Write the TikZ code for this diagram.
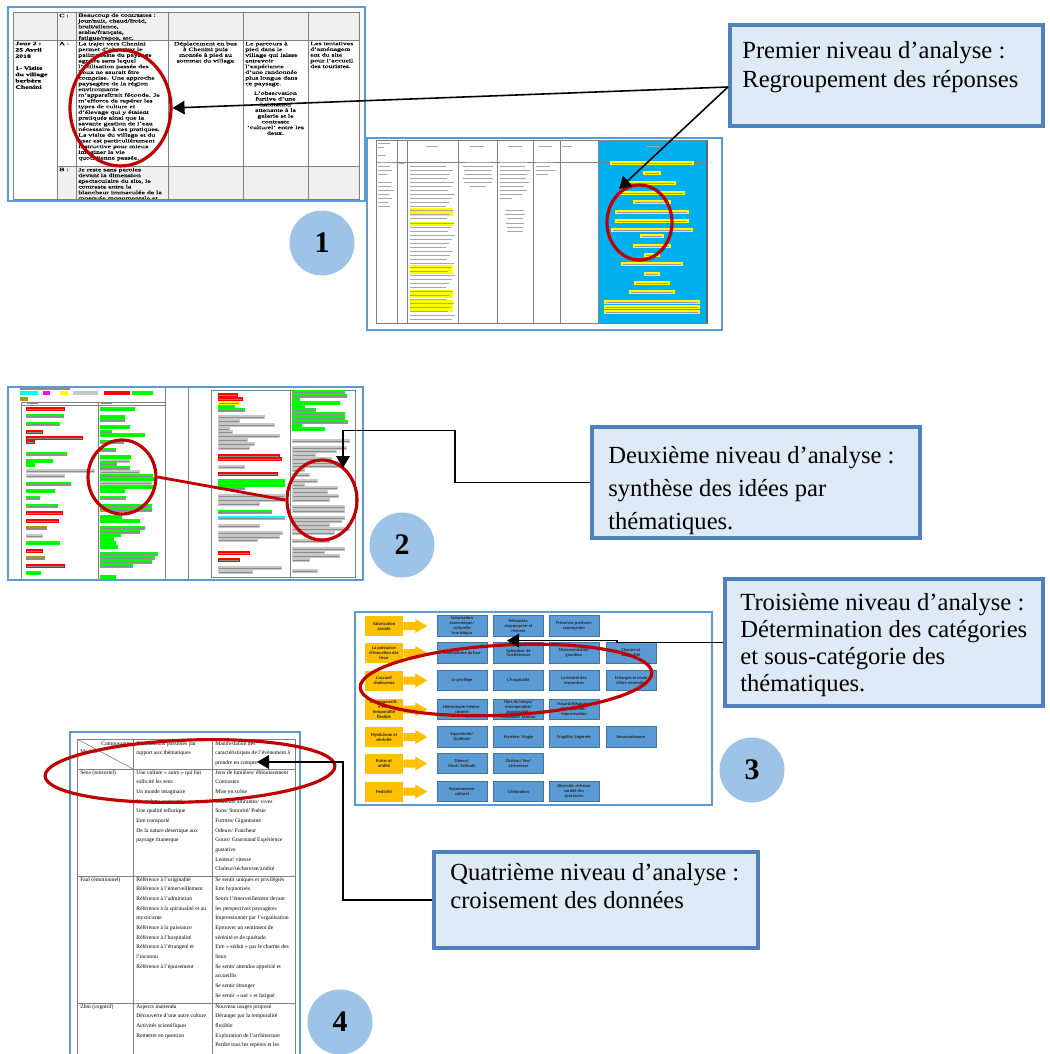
\documentclass[tikz,border=0pt]{standalone}
\usepackage{fontspec}
\setmainfont{Liberation Serif}
\newfontfamily\tabfont[FakeStretch=1.55, FakeBold=0.8]{Liberation Serif}
\newfontfamily\catfont{Carlito}
\usepackage{tikz}
\usetikzlibrary{arrows.meta,positioning,calc,shapes.geometric}

\definecolor{frameblue}{HTML}{5B9BD5}
\definecolor{boxblue}{HTML}{4F81BD}
\definecolor{boxfill}{HTML}{DEEAF6}
\definecolor{circfill}{HTML}{9DC3E6}
\definecolor{markred}{HTML}{C00000}
\definecolor{catorange}{HTML}{FFC000}
\definecolor{subblue}{HTML}{5B9BD5}
\definecolor{tcyan}{HTML}{00B0F0}
\definecolor{hg}{HTML}{00FF00}
\definecolor{hy}{HTML}{FFFF00}
\definecolor{hc}{HTML}{00FFFF}
\definecolor{hm}{HTML}{FF00FF}
\definecolor{ho}{HTML}{A89A00}
\colorlet{hr}{red}
\colorlet{tx}{black!22}

\begin{document}
\begin{tikzpicture}[x=0.02cm, y=-0.02cm,
    frame/.style={draw=frameblue, line width=1.6pt},
    grid/.style={draw=black!50, line width=0.35pt},
    callout/.style={rectangle, draw=boxblue, line width=2.4pt, fill=boxfill, anchor=north west, inner sep=0pt},
    calltext/.style={anchor=north west, inner sep=0pt, align=left},
    ring/.style={ellipse, draw=markred, line width=1.8pt, inner sep=0pt},
    badge/.style={circle, fill=circfill, minimum size=1.3cm, inner sep=0pt, font=\fontsize{17}{20}\selectfont\bfseries},
    arrow/.style={-{Triangle[length=0.24cm, width=0.27cm]}, line width=0.9pt},
    cell/.style={anchor=north west, inner sep=0pt, align=left, font=\tabfont\fontsize{2.85}{3.25}\selectfont},
    cellc/.style={cell, anchor=north, align=center},
    cell4/.style={anchor=north west, inner sep=0pt, align=left, font=\fontsize{3.2}{5.5}\selectfont},
    cat/.style={rectangle, fill=catorange, minimum width=0.76cm, minimum height=0.4cm, inner sep=0.4pt, align=center, text=black!85, font=\catfont\bfseries\fontsize{2.6}{2.9}\selectfont},
    sub/.style={rectangle, fill=subblue, draw=subblue!75!black, line width=0.3pt, minimum width=1cm, minimum height=0.41cm, inner sep=0.4pt, align=center, text=black!85, font=\catfont\bfseries\fontsize{2.5}{2.8}\selectfont}
]
    \useasboundingbox (0,0) rectangle (1049,1054);
    \clip (0,0) rectangle (1049,1054);

    % Panel 1: journal table
    \fill[black!6] (13,12) rectangle (359,40);
    \fill[black!6] (57,166) rectangle (359,199);
    \draw[grid] (13,12) rectangle (359,199);
    \foreach \x in {57,76,168,243,308} \draw[grid] (\x,12) -- (\x,199);
    \draw[grid] (13,40) -- (359,40);
    \draw[grid] (57,166) -- (359,166);
    \node[cell] (rowc) at (59,13.5) {C :};
    \node[cell] (rowa) at (59,41.5) {A :};
    \node[cell] (rowb) at (59,167.5) {B :};
    \node[cell] (contr) at (78,13) {Beaucoup de contrastes :\\jour/nuit, chaud/froid,\\bruit/silence,\\arabe/français,\\fatigue/repos, etc.};
    \node[cell, font=\tabfont\bfseries\fontsize{2.85}{3.6}\selectfont] (day) at (15,41.5) {Jour 2 :\\25 Avril\\2018\\[3.2pt]1- Visite\\du village\\berbère\\Chenini};
    \node[cell] (trajet) at (78,41.5) {La trajet vers Chenini\\permet d’observer le\\palimpseste du paysage\\agraire sans lequel\\l’utilisation passée des\\lieux ne saurait être\\comprise. Une approche\\paysagère de la région\\environnante\\m’apparaîtrait féconde. Je\\m’efforce de repérer les\\types de culture et\\d’élevage qui y étaient\\pratiqués ainsi que la\\savante gestion de l’eau\\nécessaire à ces pratiques.\\La visite du village et du\\ksar est particulièrement\\instructive pour mieux\\imaginer la vie\\quotidienne passée.};
    \node[cellc] (bus) at (205.5,41.5) {Déplacement en bus\\à Chenini puis\\montée à pied au\\sommet du village};
    \node[cell] (walk) at (245,41.5) {Le parcours à\\pied dans le\\village qui laisse\\entrevoir\\l’expérience\\d’une randonnée\\plus longue dans\\ce paysage.};
    \node[cellc] (obs) at (275.5,91) {L’observation\\furtive d’une\\habitation\\attenante à la\\galerie et le\\contraste\\‘culturel’ entre les\\deux.};
    \node[cell] (amen) at (310,41.5) {Les tentatives\\d’aménagem\\ent du site\\pour l’accueil\\des touristes.};
    \begin{scope}
        \clip (76,166) rectangle (168,199);
        \node[cell] (parole) at (78,167.5) {Je reste sans paroles\\devant la dimension\\spectaculaire du site, le\\contraste entre la\\blancheur immaculée de la\\mosquée monumentale et\\la};
    \end{scope}
    \draw[frame] (8,7) rectangle (365,201);

    % Panel 1b: coded table
    \fill[tcyan] (598,140) rectangle (707,323);
    \draw[grid] (376,140) rectangle (707,323);
    \foreach \x in {397,407,458,497,533,560,598} \draw[grid] (\x,140) -- (\x,323);
    \draw[grid] (376,162) -- (707,162);
    \draw[black!60, line width=0.8pt] (707,140) -- (707,323);
    \foreach \xa/\xb/\y in {378/390/144, 378/384/148, 378/386/156, 426/438/147, 470/484/147, 508/522/147, 539/552/147, 562/572/147, 646/660/147}
        \fill[black!35] (\xa,\y-0.5) rectangle (\xb,\y+0.5);
    \fill[black!35] (399,163.5) rectangle (404,164.5);
    \foreach \y/\xe in {163/393, 167/390, 171/392, 175/387, 183/392, 187/391, 191/394, 195/389, 199/392, 203/388, 207/390}
        \fill[black!35] (378,\y-0.5) rectangle (\xe,\y+0.5);
    \foreach \y in {210,214,224,267,272,292,296,302,306,310}
        \fill[hy] (410,\y-1.8) rectangle (453,\y+1.8);
    \foreach \i in {0,...,38} {
        \pgfmathsetmacro\yy{167+4*\i}
        \pgfmathsetmacro\xe{446+mod(7*\i,10)}
        \fill[black!35] (410,\yy-0.5) rectangle (\xe,\yy+0.5);
    }
    \foreach \y/\h in {163/13, 167/15, 171/14, 175/13, 179/15, 183/14, 187/8}
        \fill[black!35] (477.5-\h,\y-0.5) rectangle (477.5+\h,\y+0.5);
    \foreach \y/\xe in {163/528, 167/525, 171/530, 175/527, 179/526, 183/529, 187/524, 191/527, 195/522, 199/512}
        \fill[black!35] (500,\y-0.5) rectangle (\xe,\y+0.5);
    \foreach \y/\h in {211/9, 215/10, 219/8, 223/9, 227/8, 231/8}
        \fill[black!35] (515-\h,\y-0.5) rectangle (515+\h,\y+0.5);
    \foreach \y/\xe in {163/553, 167/550, 171/555, 175/548}
        \fill[black!35] (536,\y-0.5) rectangle (\xe,\y+0.5);
    \foreach \y/\h in {163/42, 173/9, 183/24, 193/33, 202/19, 212/37, 221/37, 230/41, 236/12, 246/19, 255/8, 264/31, 274/8, 283/18, 292/23, 302/48, 307/48, 312/48} {
        \fill[hy] (652-\h,\y-1.8) rectangle (652+\h,\y+1.8);
        \fill[black!40] (654-\h,\y-0.45) rectangle (650+\h,\y+0.45);
    }
    \draw[frame] (367,138) rectangle (722,330);

    % Panel 2: coloured themes
    \fill[black!45] (20,388) rectangle (70,389.5);
    \foreach \xa/\xb/\c in {20/38/hc, 43/50/hm, 60/68/hy, 73/98/tx, 104/130/hr, 132/153/hg}
        \fill[\c] (\xa,391) rectangle (\xb,395);
    \fill[ho] (20,397) rectangle (28,401);
    \draw[grid] (21,402) -- (165,402);
    \draw[grid] (21,405) -- (165,405);
    \foreach \x in {21,98} \draw[grid] (\x,402) -- (\x,580);
    \foreach \x in {165,188} \draw[grid] (\x,387) -- (\x,580);
    \draw[grid] (211,390) rectangle (355,577);
    \draw[grid] (290,390) -- (290,577);
    \fill[black!45] (27,403) rectangle (38,404.2);
    \fill[black!45] (101,403) rectangle (112,404.2);
    \foreach \y/\xe/\c in {409/65/hr, 416/64/hg, 424/60/hg, 432/43/hr, 438/83/hr, 442/35/hr, 454/67/hg, 461/53/hg, 465/35/hg, 471/95/tx, 476/65/tx, 484/71/hg, 491/55/hg, 498/40/hg, 506/58/hg, 513/63/hr, 521/59/hr, 528/47/ho, 536/43/tx, 543/60/hg, 551/43/hr, 558/45/ho, 566/65/hr, 573/41/hg} {
        \fill[\c] (26,\y-1.6) rectangle (\xe,\y+1.6);
        \fill[black!45] (27,\y-0.45) rectangle (\xe-1,\y+0.45);
    }
    \foreach \y/\xe/\c in {409/135/hg, 417/125/hg, 420/125/hg, 427/130/hg, 432/112/hg, 435/145/hg, 442/124/hg, 450/116/hg, 457/131/hg, 461/130/tx, 464/117/hg, 468/130/hg, 472/140/tx, 476/153/hg, 479/155/hg, 483/152/tx, 487/155/hg, 491/125/hg, 498/126/hg, 506/152/hg, 510/152/hg, 517/122/hg, 521/140/hg, 528/145/hg, 532/140/hg, 535/121/hg, 539/114/hg, 543/116/hg, 547/118/hg, 554/158/hg, 558/155/hg, 562/152/hg, 566/133/hg, 577/116/hg} {
        \fill[\c] (100,\y-1.6) rectangle (\xe,\y+1.6);
        \fill[black!45] (101,\y-0.45) rectangle (\xe-1,\y+0.45);
    }
    \foreach \y/\xe/\c in {395/238/hr, 399/243/hr, 403/240/hy, 407/235/hg, 410/245/hg, 417/265/tx, 421/240/tx, 425/275/tx, 429/230/tx, 432/233/tx, 436/280/tx, 440/248/tx, 444/255/tx, 448/250/tx, 456/280/hr, 459/282/hr, 467/245/tx, 474/278/hr, 481/285/hg, 485/285/hg, 488/245/hg, 496/285/tx, 500/285/tx, 504/260/tx, 512/272/hg, 518/285/hc, 526/260/tx, 533/283/tx, 537/280/tx, 540/258/tx, 553/250/hr, 560/240/hr, 568/282/tx, 572/253/tx} {
        \fill[\c] (218,\y-1.6) rectangle (\xe,\y+1.6);
        \fill[black!45] (219,\y-0.45) rectangle (\xe-1,\y+0.45);
    }
    \foreach \y/\xe/\c in {392/345/hg, 396/347/hg, 399/300/hg, 403/340/hg, 407/305/hg, 410/316/hg, 414/345/hg, 418/345/hg, 422/348/hg, 425/302/hg, 429/325/hg, 441/350/tx, 448/347/tx, 451/337/tx, 455/316/tx, 459/332/tx, 463/345/tx, 466/340/tx, 470/305/tx, 475/310/tx, 481/318/tx, 485/305/tx, 488/338/tx, 492/328/tx, 496/339/tx, 500/330/tx, 507/345/tx, 511/345/tx, 518/345/tx, 521/342/tx, 525/330/tx, 529/350/tx, 533/335/tx, 541/330/tx, 549/345/tx, 552/325/tx, 556/340/tx, 560/310/tx, 571/318/tx} {
        \fill[\c] (292,\y-1.6) rectangle (\xe,\y+1.6);
        \fill[black!45] (293,\y-0.45) rectangle (\xe-1,\y+0.45);
    }
    \draw[frame] (8,387) rectangle (363,580);

    % Panel 3: categories
    \foreach \yy/\txt [count=\r] in {626/{Valorisation\\sociale}, 653/{La puissance\\d’évocation des\\lieux}, 680.5/{L’accueil\\chaleureux}, 709.5/{L’intemporalit-\\é et la\\temporalité\\flexible}, 737/{Mysticisme et\\sérénité}, 763.5/{Ruine et\\aridité}, 791.5/{Festivité}} {
        \node[cat] (cat\r) at (384,\yy) {\txt};
        \fill[catorange] ($(cat\r.east)+(0,-4)$) -- ++(12,0) -- ++(0,-3) -- ++(12,7) -- ++(-12,7) -- ++(0,-3) -- ++(-12,0) -- cycle;
    }
    \node[sub] (s11) at (462,626) {Valorisation\\économique/\\culturelle\\touristique};
    \node[sub] (s12) at (518.5,626) {Rehausser,\\réapproprier et\\rénover};
    \node[sub] (s13) at (574,626) {Préserver, perdurer,\\sauvegarder};
    \node[sub] (s21) at (462,653) {Minimalisme du ksar};
    \node[sub] (s22) at (518.5,653) {Splendeur de\\l’architecture};
    \node[sub] (s23) at (574,653) {Monumentalité/\\grandeur};
    \node[sub] (s24) at (631,653) {Charme et\\originalité};
    \node[sub] (s31) at (462,680.5) {Le privilège};
    \node[sub] (s32) at (518.5,680.5) {L’hospitalité};
    \node[sub] (s33) at (574,680.5) {La beauté des\\rencontres};
    \node[sub] (s34) at (631,680.5) {Echanges et envie\\d’être ensemble};
    \node[sub] (s41) at (462,709.5) {Hétérotopie/Hétéro-\\chronie};
    \node[sub] (s42) at (518.5,709.5) {Hors du temps/\\Intemporalité/\\Ancestralité/\\Flexibilité/ Lenteur};
    \node[sub] (s43) at (574,709.5) {Hasard/Aléatoire/\\Non-planifié/\\Improvisation};
    \node[sub] (s51) at (462,737) {Equanimité/\\Quiétude};
    \node[sub] (s52) at (518.5,737) {Mystère/ Magie};
    \node[sub] (s53) at (574,737) {Fragilité/ Légèreté};
    \node[sub] (s54) at (631,737) {Reconnaissance};
    \node[sub] (s61) at (462,763.5) {Silence/\\Mort/ Solitude};
    \node[sub] (s62) at (518.5,763.5) {Chaleur/ Feu/\\sécheresse};
    \node[sub] (s71) at (462,791.5) {Rayonnement\\culturel};
    \node[sub] (s72) at (518.5,791.5) {Célébration};
    \node[sub] (s73) at (574,791.5) {Diversité, richesse\\variété des\\spectacles};
    \draw[frame] (355,612) rectangle (712,805);

    % Panel 4: crossing table
    \draw[grid] (77,739) rectangle (295,1070);
    \foreach \x in {133,212} \draw[grid] (\x,739) -- (\x,1070);
    \foreach \y in {769,876,1003} \draw[grid] (77,\y) -- (295,\y);
    \draw[grid] (77,739) -- (133,769);
    \node[cell4, anchor=north east] (compo) at (132,741) {Composantes};
    \node[cell4] (modul) at (80,749) {Module};
    \node[cell4] (decl) at (136,741) {Déclinaisons possibles par\\rapport aux thématiques};
    \node[cell4] (mani) at (215,741) {Manifestation des\\caractéristiques de l’évènement à\\prendre en compte};
    \node[cell4] (sens) at (80,770) {Sens (sensoriel)};
    \node[cell4] (faal) at (80,877) {Faal (émotionnel)};
    \node[cell4] (zhni) at (80,1004) {Zhni (cognitif)};
    \node[cell4] (d1) at (136,770) {Une culture « autre » qui fait\\sollicité les sens\\Un monde imaginaire\\Un rythme contrasté\\Une qualité tellurique\\Etre transporté\\De la nature désertique aux\\paysage titanesque};
    \node[cell4] (m1) at (215,770) {Jeux de lumières/ éblouissement\\Contrastes\\Mise en scène\\Couleurs attirantes/ vives\\Sons/ Sonorité/ Poésie\\Formes/ Gigantisme\\Odeurs/ Fraicheur\\Gouts/ Gourmand Expérience\\gustative\\Lenteur/ vitesse\\Chaleur/sécheresse/aridité};
    \node[cell4] (d2) at (136,877) {Référence à l’originalité\\Référence à l’émerveillement\\Référence à l’admiration\\Référence à la spiritualité et au\\mysticisme\\Référence à la puissance\\Référence à l’hospitalité\\Référence à l’étrangeté et\\l’inconnu\\Référence à l’épuisement};
    \node[cell4] (m2) at (215,877) {Se sentir uniques et privilégiés\\Etre hypnotisés\\Sentir l’émerveillement devant\\les perspectives paysagères\\Impressionner par l’organisation\\Eprouver un sentiment de\\sérénité et de quiétude\\Etre « séduit » par le charme des\\lieux\\Se sentir attendus apprécié et\\accueillis\\Se sentir étranger\\Se sentir « usé » et fatigué};
    \node[cell4] (d3) at (136,1004) {Aspects inattendu\\Découverte d’une autre culture\\Activités scientifiques\\Remettre en question};
    \node[cell4] (m3) at (215,1004) {Nouveau usages proposé\\Déranger par la temporalité\\flexible\\Exploration de l’architecture\\Perdre tous les repères et les};
    \draw[frame] (70,732) rectangle (300,1070);

    % Red marks
    \node[ring, minimum width=2.02cm, minimum height=2.32cm] (e1) at (120.5,108) {};
    \node[ring, minimum width=1.3cm, minimum height=1.5cm] (e1b) at (639.5,222.5) {};
    \node[ring, minimum width=1.36cm, minimum height=1.48cm] (e2a) at (122,477) {};
    \node[ring, minimum width=1.4cm, minimum height=1.6cm] (e2b) at (322,500) {};
    \draw[markred, line width=1.6pt] (e2a.east) -- (e2b.west);
    \node[ring, minimum width=5.84cm, minimum height=1.4cm, rotate=3] (e3) at (506,680) {};
    \node[ring, minimum width=5.8cm, minimum height=1.24cm, rotate=2] (e4) at (190,771) {};

    % Level boxes
    \node[callout, minimum width=6.26cm, minimum height=2.02cm] (c1) at (728,23) {};
    \node[calltext, font=\fontsize{14}{16.5}\selectfont] (t1) at ($(c1.north west)+(14,18)$) {Premier niveau d’analyse :\\Regroupement des réponses};
    \node[callout, minimum width=6.56cm, minimum height=2.22cm] (c2) at (590,425) {};
    \node[calltext, font=\fontsize{14}{18.8}\selectfont] (t2) at ($(c2.north west)+(18,21)$) {Deuxième niveau d’analyse :\\synthèse des idées par\\thématiques.};
    \node[callout, minimum width=6.36cm, minimum height=2.54cm] (c3) at (723,577) {};
    \node[calltext, font=\fontsize{14}{15.4}\selectfont] (t3) at ($(c3.north west)+(17,16)$) {Troisième niveau d’analyse :\\Détermination des catégories\\et sous-catégorie des\\thématiques.};
    \node[callout, minimum width=6.48cm, minimum height=1.92cm] (c4) at (432,850) {};
    \node[calltext, font=\fontsize{14}{16}\selectfont] (t4) at ($(c4.north west)+(18,13)$) {Quatrième niveau d’analyse :\\croisement des données};

    % Connectors
    \coordinate (c1in) at ($(c1.north west)+(0,64)$);
    \coordinate (tip1b) at (619,189);
    \coordinate (tip2) at (343,468);
    \coordinate (tip3) at ($(c3.west)+(-216,-2)$);
    \coordinate (tip4) at (257,762);
    \draw[arrow] (c1in) -- (e1.east);
    \draw[arrow] (c1in) -- (tip1b);
    \draw[arrow] (c2.west) -- ++(-135,0) -- ++(0,-52) -| (tip2);
    \draw[arrow] (c3.west) -- ++(-106,0) -- ++(0,-2) -- (tip3);
    \draw[arrow] (c4.west) -- ++(-89,0) |- (tip4);

    % Step numbers
    \node[badge] (n1) at (322,243) {1};
    \node[badge] (n2) at (402,545) {2};
    \node[badge] (n3) at (752,770) {3};
    \node[badge] (n4) at (340,1022) {4};
\end{tikzpicture}
\end{document}
